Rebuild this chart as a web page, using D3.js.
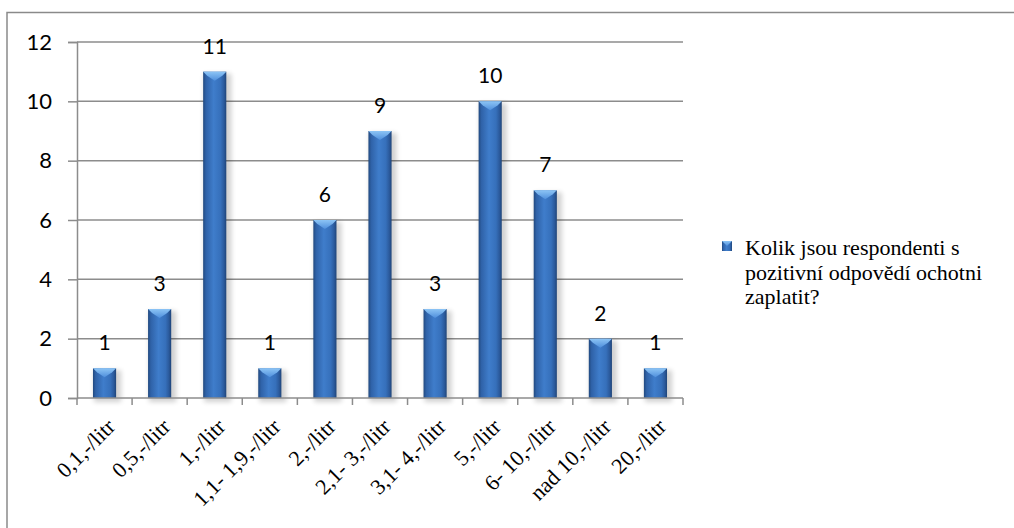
<!DOCTYPE html>
<html>
<head>
<meta charset="utf-8">
<script src="https://cdn.jsdelivr.net/npm/d3@7"></script>
<style>
  html, body { margin: 0; padding: 0; background: #fff; }
  svg { display: block; }
  .serif { font-family: "Liberation Serif", "DejaVu Serif", "Times New Roman", Times, serif; }
  .sans { font-family: Lato, "Open Sans", sans-serif; }
</style>
</head>
<body>
<script>
// Price categories (CZK per litre) and respondent counts
const categories = ["0,1,-/litr", "0,5,-/litr", "1,-/litr", "1,1- 1,9,-/litr", "2,-/litr",
  "2,1- 3,-/litr", "3,1- 4,-/litr", "5,-/litr", "6- 10,-/litr", "nad 10,-/litr", "20,-/litr"];
const counts = [1, 3, 11, 1, 6, 9, 3, 10, 7, 2, 1];
const yTicks = [0, 2, 4, 6, 8, 10, 12];
const seriesName = ["Kolik jsou respondenti s", "pozitivní odpovědí ochotni", "zaplatit?"];

const W = 1014, H = 528;
const plot = { left: 77, right: 683, top: 42, bottom: 398 };

const svg = d3.select("body").append("svg").attr("width", W).attr("height", H);
const defs = svg.append("defs");

// Bevelled bar fill: darker edges, brighter centre
const g1 = defs.append("linearGradient").attr("id", "barFill").attr("x1", 0).attr("x2", 1).attr("y1", 0).attr("y2", 0);
[[0, "#21497f"], [0.12, "#2f62a8"], [0.45, "#3f7dcb"], [0.75, "#3670bb"], [0.9, "#2b5a9c"], [1, "#1f4478"]]
  .forEach(([o, c]) => g1.append("stop").attr("offset", o).attr("stop-color", c));
const g2 = defs.append("linearGradient").attr("id", "capFill").attr("x1", 0).attr("x2", 0).attr("y1", 0).attr("y2", 1);
[[0, "#8cc4f5"], [1, "#4f8fdc"]].forEach(([o, c]) => g2.append("stop").attr("offset", o).attr("stop-color", c));
const shadow = defs.append("filter").attr("id", "soft").attr("x", "-50%").attr("y", "-50%").attr("width", "200%").attr("height", "200%");
shadow.append("feGaussianBlur").attr("stdDeviation", 2.5);

// Chart frame
svg.append("path").attr("d", `M7,${H}V12.5H${W}`).attr("fill", "none").attr("stroke", "#8a8a8a").attr("stroke-width", 1.5);

const x = d3.scaleBand().domain(categories).range([plot.left, plot.right]).paddingInner(0.58).paddingOuter(0.29);
const slot = d3.scaleBand().domain(categories).range([plot.left, plot.right]);
const y = d3.scaleLinear().domain([0, 12]).range([plot.bottom, plot.top]);

// Gridlines
svg.append("g").selectAll("line").data(yTicks.filter(d => d > 0)).join("line")
  .attr("x1", plot.left).attr("x2", plot.right)
  .attr("y1", d => y(d)).attr("y2", d => y(d))
  .attr("stroke", "#8c8c8c").attr("stroke-width", 1.5);

// Y axis
const yAxis = svg.append("g").attr("transform", `translate(${plot.left},0)`)
  .call(d3.axisLeft(y).tickValues(yTicks).tickSize(9).tickPadding(16));
yAxis.attr("font-family", null).attr("font-size", null);
yAxis.select(".domain").attr("stroke", "#8c8c8c").attr("stroke-width", 1.5);
yAxis.selectAll(".tick line").attr("stroke", "#8c8c8c").attr("stroke-width", 1.5);
yAxis.selectAll(".tick text").attr("class", "sans").style("font-size", "22px").attr("fill", "#000");

// Bar shadows
svg.append("g").selectAll("rect").data(counts).join("rect")
  .attr("x", (d, i) => x(categories[i]) + 1).attr("width", x.bandwidth() + 4)
  .attr("y", d => y(d) + 2).attr("height", d => y(0) - y(d) + 2)
  .attr("fill", "#000").attr("opacity", 0.18).attr("filter", "url(#soft)");

// Bars
const bars = svg.append("g").selectAll("g").data(counts).join("g");
bars.append("rect")
  .attr("x", (d, i) => x(categories[i])).attr("width", x.bandwidth())
  .attr("y", d => y(d)).attr("height", d => y(0) - y(d))
  .attr("fill", "url(#barFill)");
bars.append("path")
  .attr("d", (d, i) => {
    const x0 = x(categories[i]), w = x.bandwidth(), t = y(d);
    return `M${x0},${t}H${x0 + w}L${x0 + w - 4},${t + 4}L${x0 + w / 2},${t + 9}L${x0 + 4},${t + 4}Z`;
  })
  .attr("fill", "url(#capFill)");

// X axis
const xAxis = svg.append("g").attr("transform", `translate(0,${plot.bottom})`);
xAxis.append("line").attr("x1", plot.left).attr("x2", plot.right).attr("stroke", "#8c8c8c").attr("stroke-width", 1.5);
xAxis.selectAll(".tk").data(categories.concat([null])).join("line").attr("class", "tk")
  .attr("x1", (d, i) => plot.left + slot.step() * i).attr("x2", (d, i) => plot.left + slot.step() * i)
  .attr("y1", 0).attr("y2", 7).attr("stroke", "#8c8c8c").attr("stroke-width", 1.5);
xAxis.selectAll("text").data(categories).join("text")
  .attr("class", "serif")
  .attr("transform", d => `translate(${slot(d) + slot.bandwidth() / 2 + 12},${30}) rotate(-45)`)
  .attr("text-anchor", "end")
  .style("font-size", "22px").attr("fill", "#000")
  .text(d => d);

// Value labels
svg.append("g").selectAll("text").data(counts).join("text")
  .attr("class", "sans")
  .attr("x", (d, i) => x(categories[i]) + x.bandwidth() / 2)
  .attr("y", d => y(d) - 18)
  .attr("text-anchor", "middle")
  .style("font-size", "21px").attr("fill", "#000")
  .text(d => d);

// Legend
const lg = svg.append("g").attr("transform", "translate(722,241)");
lg.append("rect").attr("width", 10).attr("height", 10).attr("fill", "url(#barFill)");
lg.append("path").attr("d", "M0,0H10L5,5Z").attr("fill", "url(#capFill)");
lg.append("text").attr("class", "serif").attr("y", 14)
  .style("font-size", "22px").attr("fill", "#000")
  .selectAll("tspan").data(seriesName).join("tspan")
  .attr("x", 23).attr("dy", (d, i) => i === 0 ? 0 : 24.5).text(d => d);
</script>
</body>
</html>
